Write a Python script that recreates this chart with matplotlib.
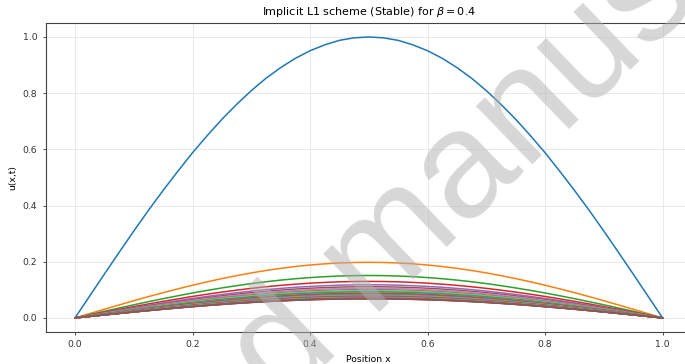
import matplotlib
matplotlib.use("Agg")
import numpy as np
import matplotlib.pyplot as plt

# =============================================================================
# Data
# =============================================================================
# positions along the rod
X_POS = [0.000, 0.025, 0.050, 0.075, 0.100, 0.125, 0.150, 0.175, 0.200, 0.225,
         0.250, 0.275, 0.300, 0.325, 0.350, 0.375, 0.400, 0.425, 0.450, 0.475,
         0.500, 0.525, 0.550, 0.575, 0.600, 0.625, 0.650, 0.675, 0.700, 0.725,
         0.750, 0.775, 0.800, 0.825, 0.850, 0.875, 0.900, 0.925, 0.950, 0.975, 1.000]
# initial profile u(x, 0) (top blue curve)
PROFILE = [0.000, 0.078, 0.156, 0.233, 0.309, 0.383, 0.454, 0.522, 0.588, 0.649,
           0.707, 0.760, 0.809, 0.853, 0.891, 0.924, 0.951, 0.972, 0.988, 0.997,
           1.000, 0.997, 0.988, 0.972, 0.951, 0.924, 0.891, 0.853, 0.809, 0.760,
           0.707, 0.649, 0.588, 0.522, 0.454, 0.383, 0.309, 0.233, 0.156, 0.078, 0.000]
# peak height of each time snapshot (one curve per snapshot)
PEAKS = [1.000, 0.198, 0.151, 0.130, 0.118, 0.111, 0.106, 0.101, 0.097, 0.094,
         0.091, 0.089, 0.087, 0.085, 0.084, 0.082, 0.081, 0.080, 0.079, 0.078,
         0.077, 0.076, 0.075, 0.075, 0.074, 0.073, 0.073, 0.072, 0.071, 0.071,
         0.070, 0.070, 0.069, 0.069, 0.068, 0.068]

TITLE = r"Implicit L1 scheme (Stable) for $\beta = 0.4$"
X_LABEL = "Position x"
Y_LABEL = "u(x,t)"
WATERMARK = "Accepted manuscript"


def main():
    fig = plt.figure(figsize=(6.85, 3.64), dpi=100)
    # axes runs a little past the right edge, like the cropped original
    ax = fig.add_axes([0.0666, 0.088, 0.9436, 0.849])

    x = np.array(X_POS)
    prof = np.array(PROFILE)
    for peak in PEAKS:
        ax.plot(x, peak * prof, lw=1.1)

    ax.set_title(TITLE, fontsize=8)
    ax.set_xlabel(X_LABEL, fontsize=6.7)
    ax.set_ylabel(Y_LABEL, fontsize=6.7)
    ax.tick_params(labelsize=6.7, length=2.5, width=0.6, colors="#333333")
    ax.grid(True, alpha=0.3, lw=0.6)
    for sp in ax.spines.values():
        sp.set_linewidth(0.8)
        sp.set_color("#444444")

    # grey diagonal watermark over everything
    fig.text(0.54, 0.265, WATERMARK, fontsize=110, family="Liberation Sans",
             color="#b0b0b0", alpha=0.5, rotation=44, rotation_mode="anchor",
             ha="center", va="center", zorder=10)

    fig.savefig("out.png", dpi=100)
    plt.close(fig)


if __name__ == "__main__":
    main()
